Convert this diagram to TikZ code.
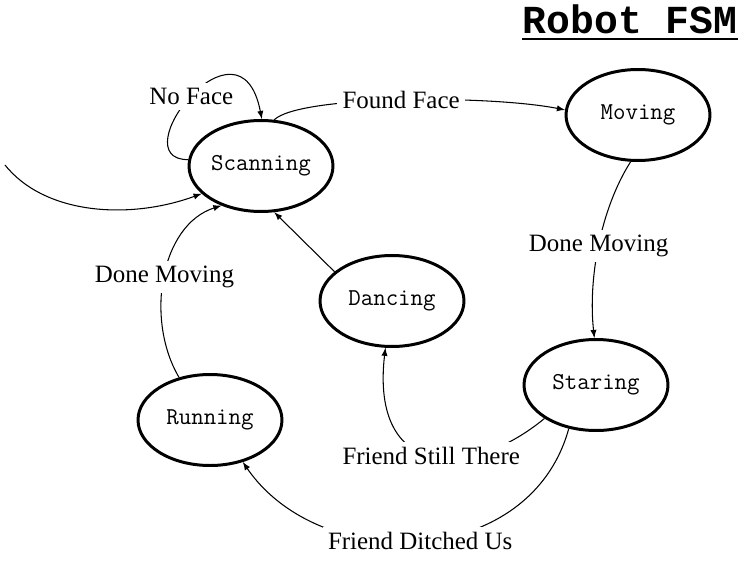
\documentclass[tikz,border=0pt]{standalone}
\usepackage{fontspec}
\setmainfont{Liberation Serif}
\newfontfamily\titlefont{Liberation Mono}
\usepackage{tikz}
\usetikzlibrary{arrows,shapes}

\begin{document}
\begin{tikzpicture}[x=0.02cm, y=-0.02cm, >=latex, main node/.style={ellipse, draw, line width=1.7pt, minimum width=2.88cm, minimum height=1.82cm, inner sep=0pt, font=\ttfamily\fontsize{13.8}{16}\selectfont}, label node/.style={fill=white, inner sep=3pt, font=\fontsize{14.2}{16}\selectfont}, every path/.style={line width=0.6pt}]
\useasboundingbox (0,0) rectangle (740,561);
\node[inner sep=0pt, anchor=base, font=\titlefont\bfseries\fontsize{22.6}{26}\selectfont] (title) at (630,33) {Robot FSM};
\draw[line width=1.6pt] ([yshift=-3.4pt]title.base west) -- ([yshift=-3.4pt]title.base east);
\node[main node] (1) at (261,166) {Scanning};
\node[main node] (2) at (638,115) {Moving};
\node[main node] (3) at (596,385) {Staring};
\node[main node] (4) at (392,301) {Dancing};
\node[main node] (5) at (210,420) {Running};
\coordinate (0) at (5,165);
\draw[->] (0) .. controls (45,215) and (130,220) .. (1.205);
\draw[->] (1.175) .. controls (120,160) and (240,5) .. node[label node] {No Face} (1.89);
\draw[->] (1.74) .. controls (300,95) and (490,95) .. node[label node] {Found Face} (2.176);
\draw[->] (2.261) .. controls (600,210) and (588,280) .. node[label node] {Done Moving} (3.92);
\draw[->] (3.213) .. controls (470,480) and (370,480) .. node[label node] {Friend Still There} (4.262);
\draw[->] (3.238) .. controls (530,570) and (320,575) .. node[label node] {Friend Ditched Us} (5.308);
\draw[->] (5.126) .. controls (145,320) and (160,225) .. node[label node] {Done Moving} (1.225);
\draw[->] (4.153) -- (1.286);
\end{tikzpicture}
\end{document}
